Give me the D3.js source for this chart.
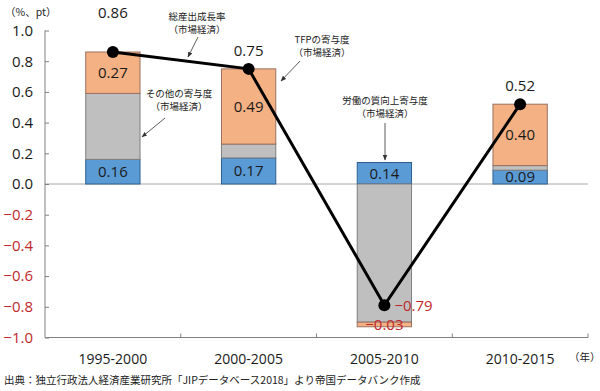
<!DOCTYPE html>
<html><head><meta charset="utf-8">
<script src="https://cdn.jsdelivr.net/npm/d3@7"></script>
<style>body{margin:0;background:#fff}svg{display:block}</style>
</head><body>
<svg id="c" width="600" height="391"></svg>
<script>
const categories = ["1995-2000","2000-2005","2005-2010","2010-2015"];
const laborQuality = [0.16, 0.17, 0.14, 0.09];
const other = [0.43, 0.09, -0.90, 0.03];
const tfp = [0.27, 0.49, -0.03, 0.40];
const totalGrowth = [0.86, 0.75, -0.79, 0.52];
const yTicks = [-1.0,-0.8,-0.6,-0.4,-0.2,0.0,0.2,0.4,0.6,0.8,1.0];

const svg = d3.select("#c");
const y = d3.scaleLinear().domain([-1,1]).range([337.5,30.5]);
const x = d3.scaleBand().domain(categories).range([45,588]).paddingInner(0.6).paddingOuter(0.3);
const font = "'Open Sans','Noto Sans',sans-serif";
const cjk = "'Noto Sans CJK JP',sans-serif";
const red = "#C0282D";

// zero line
svg.append("line").attr("x1",45).attr("x2",588).attr("y1",y(0)).attr("y2",y(0))
  .attr("stroke","#A6A6A6").attr("stroke-width",1);

// stacked segments
const series = [
  {name:"labor", vals:laborQuality, fill:"#5B9BD5", stroke:"#2F5F8F"},
  {name:"other", vals:other, fill:"#BFBFBF", stroke:"#7F7F7F"},
  {name:"tfp", vals:tfp, fill:"#F4B183", stroke:"#9A7060"}
];
const segs = [];
categories.forEach((c,i)=>{
  let pos=0, neg=0;
  series.forEach(s=>{
    const v=s.vals[i];
    let y0,y1;
    if(v>=0){y0=pos;y1=pos+v;pos=y1;} else {y0=neg;y1=neg+v;neg=y1;}
    segs.push({c,i,s,v,y0,y1});
  });
});
svg.append("g").selectAll("rect").data(segs).join("rect")
  .attr("x",d=>x(d.c)).attr("width",x.bandwidth())
  .attr("y",d=>y(Math.max(d.y0,d.y1))).attr("height",d=>Math.abs(y(d.y0)-y(d.y1)))
  .attr("fill",d=>d.s.fill).attr("stroke",d=>d.s.stroke).attr("stroke-width",1);

// axes
const ax = svg.append("g").attr("transform","translate(45,0)")
  .call(d3.axisLeft(y).tickValues(yTicks).tickSize(-4).tickPadding(10).tickFormat(d3.format(".1f")));
ax.select(".domain").attr("stroke","#808080").attr("d","M0,"+y(1)+"V"+y(-1));
ax.selectAll(".tick line").attr("stroke","#808080");
ax.selectAll(".tick text").attr("font-family",font).attr("font-size",15)
  .attr("fill",d=>d<0?red:"#1a1a1a").attr("dx",-2);

const xb = svg.append("g").attr("transform","translate(0,"+y(-1)+")");
xb.append("line").attr("x1",45).attr("x2",588).attr("stroke","#808080");
const bounds = categories.map(c=>x(c)+x.bandwidth()+x.step()*x.paddingInner()/2);
xb.selectAll("line.t").data(bounds).join("line").attr("class","t")
  .attr("x1",d=>d).attr("x2",d=>d).attr("y1",0).attr("y2",-4).attr("stroke","#808080");
xb.selectAll("text").data(categories).join("text")
  .attr("x",d=>x(d)+x.bandwidth()/2).attr("y",26).attr("text-anchor","middle")
  .attr("font-family",font).attr("font-size",14).attr("fill","#1a1a1a").text(d=>d);

// segment labels
svg.append("g").selectAll("text").data(segs.filter(d=>d.s.name!=="other")).join("text")
  .attr("x",d=>x(d.c)+x.bandwidth()/2).attr("y",d=>y((d.y0+d.y1)/2)).attr("dy","0.36em")
  .attr("text-anchor","middle").attr("font-family",font).attr("font-size",15)
  .attr("fill",d=>d.v<0?red:"#1a1a1a").text(d=>d3.format(".2f")(d.v));

// total line
const cx = c=>x(c)+x.bandwidth()/2;
svg.append("path").datum(totalGrowth)
  .attr("d",d3.line().x((d,i)=>cx(categories[i])).y(d=>y(d)))
  .attr("fill","none").attr("stroke","#000").attr("stroke-width",3);
svg.append("g").selectAll("circle").data(totalGrowth).join("circle")
  .attr("cx",(d,i)=>cx(categories[i])).attr("cy",d=>y(d)).attr("r",6).attr("fill","#000");
const off = [[0,-39],[0,-18],[10,0],[0,-19]];
svg.append("g").selectAll("text").data(totalGrowth).join("text")
  .attr("x",(d,i)=>cx(categories[i])+off[i][0]).attr("y",(d,i)=>y(d)+off[i][1]).attr("dy","0.36em")
  .attr("text-anchor",(d,i)=>off[i][0]>0?"start":"middle")
  .attr("font-family",font).attr("font-size",15)
  .attr("fill",d=>d<0?red:"#1a1a1a").text(d=>d3.format(".2f")(d));

// annotations
svg.append("defs").append("marker").attr("id","ah").attr("viewBox","0 0 10 10")
  .attr("refX",9).attr("refY",5).attr("markerWidth",7).attr("markerHeight",7)
  .attr("orient","auto").append("path").attr("d","M0,1L10,5L0,9Z").attr("fill","#333");
const notes = [
  {t:["総産出成長率","（市場経済）"], x:197, y:17, a:[198,37,188,57]},
  {t:["TFPの寄与度","（市場経済）"], x:322, y:40, a:[300,61,281,81]},
  {t:["その他の寄与度","（市場経済）"], x:179, y:94, a:[165,118,142,137]},
  {t:["労働の質向上寄与度","（市場経済）"], x:385, y:101, a:[385,123,385,160]}
];
notes.forEach(n=>{
  n.t.forEach((s,k)=>svg.append("text").attr("x",n.x).attr("y",n.y+k*13).attr("dy","0.36em")
    .attr("text-anchor","middle").attr("font-family",cjk).attr("font-size",9.5).attr("fill","#222").text(s));
  svg.append("line").attr("x1",n.a[0]).attr("y1",n.a[1]).attr("x2",n.a[2]).attr("y2",n.a[3])
    .attr("stroke","#333").attr("stroke-width",0.8).attr("marker-end","url(#ah)");
});

svg.append("text").attr("x",5).attr("y",12).attr("dy","0.36em").attr("font-family",cjk)
  .attr("font-size",10.5).attr("fill","#222").text("（%、pt）");
svg.append("text").attr("x",569).attr("y",357).attr("dy","0.36em").attr("font-family",cjk)
  .attr("font-size",10.5).attr("fill","#222").text("（年）");
svg.append("text").attr("x",4).attr("y",380).attr("dy","0.36em").attr("font-family",cjk)
  .attr("font-size",10.5).attr("fill","#222").text("出典：独立行政法人経済産業研究所「JIPデータベース2018」より帝国データバンク作成");
</script>
</body></html>
